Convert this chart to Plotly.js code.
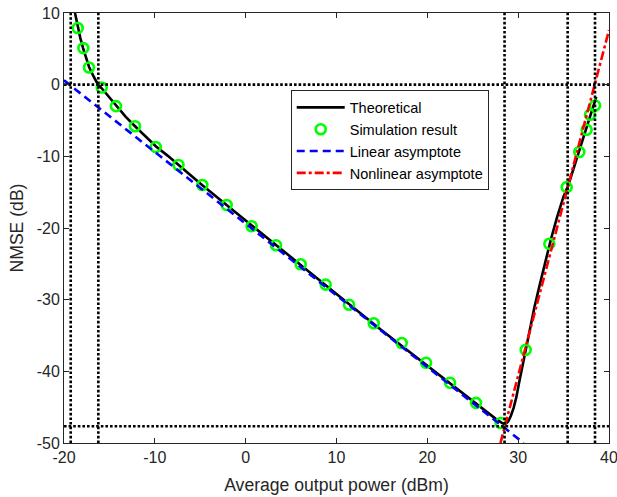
<!DOCTYPE html>
<html>
<head>
<meta charset="utf-8">
<script src="https://cdn.plot.ly/plotly-3.0.1.min.js"></script>
<style>html,body{margin:0;padding:0;background:#fff;}#chart{width:617px;height:497px;}</style>
</head>
<body>
<div id="chart"></div>
<script>
// Theoretical curve
var theoX = [-18.79,-18.5,-18.2,-17.9,-17.6,-17.25,-16.8,-16.3,-15.85,-15.0,-14.28,-13.2,-12.18,-11.0,-9.9,-8.6,-7.4,-5.0,-2.0,1.0,5.0,10.0,15.0,20.0,25.0,27.5,28.2,28.55,28.9,29.2,29.5,29.8,30.1,30.5,30.9,31.3,31.8,32.4,33.0,33.6,34.3,35.0,35.5,36.2,36.8,37.5,38.0,38.6];
var theoY = [10,8.0,6.5,5.1,3.8,2.5,1.3,0.1,-0.5,-1.8,-3.0,-4.5,-5.8,-7.3,-8.6,-9.9,-11.2,-13.8,-16.9,-20.0,-24.1,-29.2,-34.3,-39.2,-44.2,-46.6,-47.2,-47.4,-47.0,-46.2,-45.1,-43.6,-41.6,-39.0,-36.4,-33.9,-31.0,-27.8,-24.6,-21.6,-18.4,-15.6,-14.1,-11.3,-8.9,-6.1,-4.2,-1.7];
// Simulation result
var simX = [-18.49,-17.87,-17.25,-15.85,-14.28,-12.18,-9.9,-7.4,-4.77,-2.09,0.66,3.34,6.06,8.81,11.38,14.1,17.18,19.86,22.5,25.36,28.07,30.83,33.43,35.34,36.73,37.54,37.91,38.46];
var simY = [7.9,5.1,2.4,-0.4,-3.0,-5.8,-8.7,-11.2,-14.0,-16.8,-19.75,-22.4,-25.06,-27.9,-30.7,-33.3,-36.05,-38.8,-41.6,-44.4,-47.2,-37.0,-22.2,-14.3,-9.4,-6.3,-4.2,-2.9];
// Linear asymptote
var linX = [-20, 30.6];
var linY = [0.6, -50];
// Nonlinear asymptote
var nlX = [28.05, 40];
var nlY = [-50, 7.6];
// Reference dotted lines
var vlineX = [-19.26, -16.22, 28.5, 35.45, 38.46];
var hlineY = [0, -47.66];
var xTicks = [-20,-10,0,10,20,30,40];
var yTicks = [-50,-40,-30,-20,-10,0,10];
var xRange = [-20, 40];
var yRange = [-50, 10];

var dx = [], dy = [];
vlineX.forEach(function(v){ dx.push(v, v, null); dy.push(yRange[0], yRange[1], null); });
hlineY.forEach(function(h){ dx.push(xRange[0], xRange[1], null); dy.push(h, h, null); });

var font = 'Liberation Sans, Arial, Helvetica, sans-serif';
var axc = '#262626';

var traces = [
  {x: theoX, y: theoY, mode: 'lines', name: 'Theoretical', line: {color: '#000000', width: 2.6}},
  {x: simX, y: simY, mode: 'markers', name: 'Simulation result',
   marker: {symbol: 'circle-open', size: 10, color: '#00ff00', line: {color: '#00ff00', width: 2.6}}},
  {x: linX, y: linY, mode: 'lines', name: 'Linear asymptote', line: {color: '#0000ff', width: 2.6, dash: '8px,5px'}},
  {x: nlX, y: nlY, mode: 'lines', name: 'Nonlinear asymptote', line: {color: '#ff0000', width: 2.6, dash: '9px,3px,3px,3px'}},
  {x: dx, y: dy, mode: 'lines', showlegend: false, hoverinfo: 'skip', line: {color: '#000000', width: 2.6, dash: '2.6px,2px'}}
];

var axisCommon = {
  showgrid: false, zeroline: false, ticks: 'inside', ticklen: 5, tickwidth: 1, tickcolor: axc,
  showline: true, linecolor: axc, linewidth: 1, mirror: 'ticks', ticklabeloverflow: 'allow',
  tickfont: {family: font, size: 16, color: axc}
};

var layout = {
  width: 617, height: 497,
  margin: {l: 64, r: 8, t: 13, b: 54},
  paper_bgcolor: '#ffffff', plot_bgcolor: '#ffffff',
  font: {family: font, color: axc},
  showlegend: true,
  legend: {x: 0.416, y: 0.820, xanchor: 'left', yanchor: 'top', bgcolor: '#ffffff',
           bordercolor: axc, borderwidth: 1, font: {family: font, size: 14.5, color: '#000000'},
           itemwidth: 48, tracegroupgap: 0},
  xaxis: Object.assign({}, axisCommon, {range: xRange, tickvals: xTicks, ticktext: xTicks.map(String),
           title: {text: 'Average output power (dBm)', font: {family: font, size: 17.6, color: axc}, standoff: 13}}),
  yaxis: Object.assign({}, axisCommon, {range: yRange, tickvals: yTicks, ticktext: yTicks.map(String),
           title: {text: 'NMSE (dB)', font: {family: font, size: 17.6, color: axc}, standoff: 8}})
};

Plotly.newPlot('chart', traces, layout, {staticPlot: true, displayModeBar: false});
</script>
</body>
</html>
